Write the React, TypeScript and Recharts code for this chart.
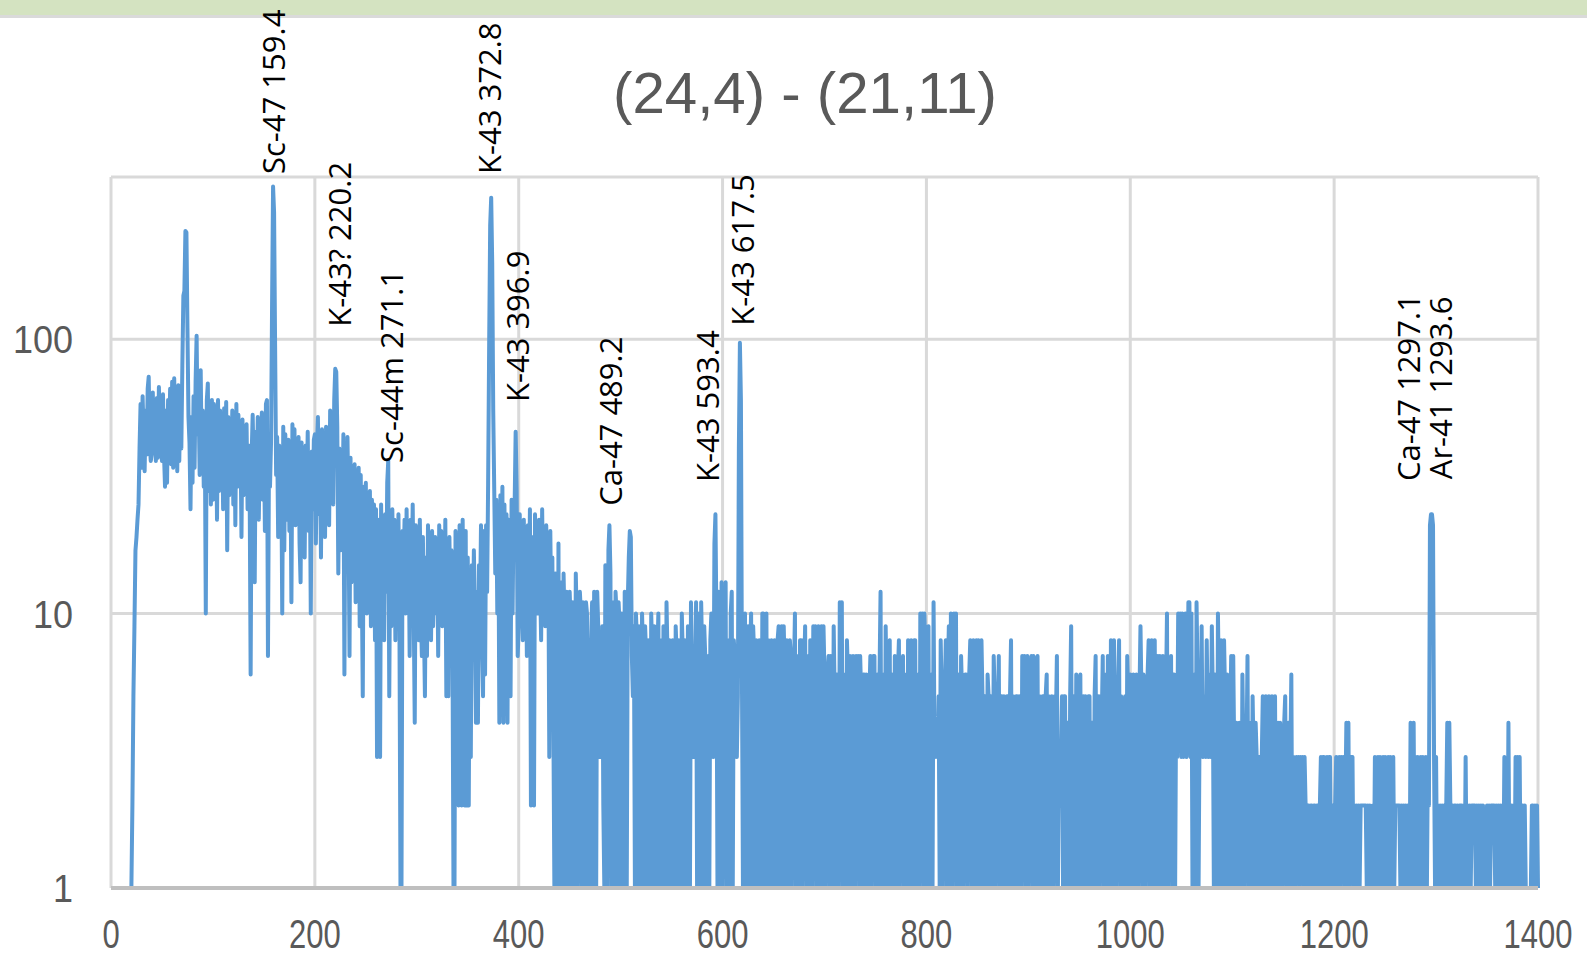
import React from 'react';
import { LineChart, Line, XAxis, YAxis, CartesianGrid, ReferenceDot } from 'recharts';

const TITLE = '(24,4) - (21,11)';
const X_TICKS = [0, 200, 400, 600, 800, 1000, 1200, 1400];
const Y_TICKS = [1, 10, 100];

// counts per 1 keV channel (1 = bottom of the log axis)
const counts020 = [
  1, 2, 5, 9, 17, 19, 22, 25, 40, 58,
  34, 62, 45, 33, 55, 38, 66, 73, 42, 36,
  38, 64, 40, 58, 36, 61, 37, 67, 44, 59,
  36, 63, 38, 29, 55, 30, 60, 41, 66, 35,
  70, 34, 72, 38, 63, 33, 68, 36, 65, 40,
  80, 144, 150, 248, 245, 110, 52, 42, 24, 52,
  30, 62, 34, 70, 103, 45, 58, 32, 77, 36,
  55, 29, 48, 10, 60, 69, 28, 57, 25, 60,
];
const counts100 = [
  26, 58, 30, 54, 22, 60, 28, 55, 35, 50,
  24, 56, 31, 59, 17, 52, 27, 48, 33, 55,
  25, 50, 21, 58, 29, 53, 34, 46, 19, 51,
  27, 44, 36, 49, 24, 41, 30, 6, 38, 53,
  33, 13, 46, 28, 52, 22, 40, 31, 54, 26,
  47, 20, 58, 60, 7, 37, 29, 42, 130, 360,
  290, 95, 32, 44, 19, 41, 25, 36, 10, 48,
  17, 45, 30, 22, 43, 20, 37, 11, 49, 28,
  47, 21, 39, 25, 44, 18, 13, 42, 23, 38,
  16, 41, 27, 46, 20, 36, 10, 39, 24, 43,
];
const counts200 = [
  45, 18, 40, 52, 23, 37, 16, 47, 26, 42,
  19, 48, 30, 44, 21, 55, 33, 50, 25, 60,
  78, 76, 48, 14, 40, 17, 36, 22, 45, 6,
  33, 15, 44, 24, 7, 37, 13, 31, 18, 35,
  11, 30, 20, 34, 9, 32, 14, 5, 29, 12,
  30, 10, 27, 16, 28, 9, 26, 13, 25, 8,
  24, 3, 22, 11, 3, 25, 10, 21, 8, 23,
  12, 30, 36, 5, 20, 9, 24, 13, 22, 8,
  21, 11, 23, 9, 1, 1, 20, 14, 22, 10,
  24, 12, 19, 7, 22, 13, 25, 10, 4, 21,
];
const counts300 = [
  12, 20, 8, 22, 10, 7, 19, 9, 5, 16,
  7, 21, 11, 18, 8, 20, 9, 13, 19, 10,
  17, 7, 21, 12, 20, 9, 18, 11, 22, 5,
  15, 5, 19, 10, 17, 8, 1, 1, 20, 11,
  16, 2, 21, 12, 2, 22, 9, 2, 20, 2,
  16, 2, 14, 3, 15, 8, 17, 10, 4, 12,
  4, 15, 10, 21, 8, 5, 20, 6, 21, 12,
  30, 95, 260, 328, 190, 55, 28, 14, 26, 10,
  24, 4, 27, 12, 29, 4, 25, 11, 23, 4,
  22, 13, 5, 26, 10, 24, 25, 46, 28, 7,
];
const counts400 = [
  9, 23, 12, 20, 8, 22, 10, 18, 7, 21,
  11, 24, 2, 19, 9, 2, 23, 12, 20, 10,
  22, 13, 8, 24, 11, 19, 9, 21, 12, 18,
  3, 20, 9, 16, 4, 1, 14, 9, 1, 18,
  1, 13, 10, 1, 14, 9, 1, 12, 10, 1,
  12, 9, 1, 11, 10, 1, 14, 9, 1, 8,
  12, 10, 1, 11, 9, 1, 11, 10, 1, 8,
  1, 8, 11, 1, 12, 9, 1, 12, 9, 3,
  4, 3, 9, 2, 1, 15, 10, 1, 17, 21,
  14, 1, 11, 9, 1, 12, 10, 1, 11, 9,
];
const counts500 = [
  1, 10, 8, 1, 12, 9, 1, 11, 16, 20,
  19, 7, 5, 9, 1, 10, 8, 1, 9, 8,
  1, 10, 7, 1, 9, 7, 1, 8, 7, 1,
  10, 7, 1, 9, 7, 1, 7, 10, 1, 8,
  7, 1, 9, 7, 1, 11, 7, 1, 8, 7,
  1, 8, 7, 1, 9, 7, 1, 8, 7, 1,
  10, 7, 1, 8, 6, 1, 9, 7, 1, 11,
  7, 3, 4, 3, 11, 1, 10, 7, 1, 11,
  7, 1, 9, 7, 1, 6, 7, 1, 8, 10,
  4, 3, 18, 23, 9, 1, 12, 8, 1, 13,
];
const counts600 = [
  1, 9, 7, 13, 1, 8, 7, 1, 10, 12,
  1, 8, 7, 4, 3, 5, 40, 97, 60, 6,
  1, 8, 10, 1, 7, 9, 1, 7, 10, 1,
  9, 7, 1, 8, 7, 1, 8, 7, 1, 10,
  10, 1, 7, 10, 1, 8, 6, 1, 8, 7,
  1, 8, 6, 1, 8, 9, 1, 7, 9, 1,
  9, 6, 1, 8, 6, 1, 8, 7, 1, 7,
  6, 10, 1, 7, 6, 1, 8, 8, 1, 8,
  6, 9, 1, 7, 6, 1, 8, 7, 1, 9,
  6, 9, 1, 7, 9, 1, 7, 9, 1, 9,
];
const counts700 = [
  6, 1, 5, 6, 7, 1, 7, 6, 1, 9,
  5, 1, 6, 5, 1, 11, 6, 11, 1, 6,
  5, 1, 8, 6, 1, 7, 5, 1, 7, 6,
  1, 7, 5, 7, 1, 7, 5, 1, 6, 6,
  1, 6, 5, 1, 5, 7, 1, 6, 7, 7,
  1, 5, 6, 1, 6, 12, 1, 6, 5, 1,
  9, 5, 1, 6, 8, 1, 5, 6, 1, 7,
  5, 1, 6, 8, 1, 5, 6, 7, 1, 5,
  6, 1, 8, 6, 1, 8, 5, 1, 8, 8,
  1, 6, 5, 1, 10, 6, 10, 1, 10, 7,
];
const counts800 = [
  1, 6, 9, 1, 6, 5, 1, 11, 3, 4,
  4, 3, 5, 1, 8, 5, 1, 6, 5, 8,
  1, 6, 9, 1, 10, 6, 1, 10, 5, 10,
  1, 5, 6, 1, 7, 5, 1, 5, 6, 6,
  1, 5, 6, 8, 1, 5, 8, 1, 6, 8,
  1, 8, 5, 1, 8, 5, 1, 5, 5, 1,
  6, 5, 1, 5, 4, 1, 7, 5, 1, 5,
  4, 7, 1, 5, 5, 1, 5, 4, 1, 5,
  5, 1, 5, 8, 1, 5, 4, 1, 5, 5,
  1, 5, 4, 1, 7, 5, 7, 1, 5, 7,
];
const counts900 = [
  1, 5, 5, 7, 1, 7, 5, 1, 6, 7,
  1, 5, 4, 1, 5, 5, 1, 5, 6, 1,
  5, 4, 1, 5, 4, 1, 5, 4, 7, 1,
  3, 2, 3, 5, 1, 5, 5, 1, 4, 4,
  1, 5, 9, 1, 4, 5, 1, 6, 4, 1,
  5, 6, 1, 4, 5, 1, 5, 4, 1, 5,
  5, 1, 4, 4, 1, 5, 7, 1, 4, 5,
  1, 5, 4, 7, 1, 6, 5, 1, 7, 5,
  1, 8, 5, 1, 8, 5, 1, 5, 4, 8,
  1, 5, 4, 1, 4, 5, 1, 7, 5, 1,
];
const counts1000 = [
  6, 5, 1, 6, 5, 1, 6, 5, 1, 5,
  9, 5, 1, 6, 5, 1, 5, 6, 8, 1,
  6, 8, 1, 5, 8, 1, 6, 7, 1, 7,
  5, 1, 7, 6, 1, 5, 10, 1, 6, 5,
  7, 1, 6, 6, 1, 5, 3, 10, 4, 10,
  3, 10, 3, 9, 10, 3, 4, 11, 11, 3,
  10, 1, 6, 5, 1, 11, 6, 1, 4, 3,
  9, 3, 4, 5, 3, 8, 4, 3, 6, 3,
  9, 5, 1, 6, 5, 1, 10, 5, 1, 8,
  5, 1, 8, 5, 1, 6, 4, 1, 4, 7,
];
const counts1100 = [
  1, 7, 3, 1, 4, 3, 1, 4, 3, 1,
  6, 3, 1, 4, 3, 7, 1, 3, 4, 1,
  5, 3, 1, 4, 3, 1, 3, 3, 1, 3,
  5, 1, 3, 5, 1, 4, 5, 1, 3, 5,
  1, 3, 5, 1, 3, 4, 1, 4, 3, 1,
  3, 4, 5, 1, 3, 4, 1, 3, 6, 1,
  3, 2, 1, 3, 2, 3, 1, 3, 2, 3,
  1, 3, 2, 1, 2, 2, 1, 2, 2, 1,
  2, 2, 1, 2, 2, 1, 2, 3, 1, 3,
  3, 1, 2, 3, 1, 3, 3, 1, 2, 2,
];
const counts1200 = [
  1, 2, 3, 1, 2, 3, 1, 3, 2, 3,
  1, 2, 4, 1, 4, 1, 2, 3, 3, 1,
  2, 1, 2, 1, 2, 1, 2, 2, 2, 2,
  2, 2, 1, 2, 1, 2, 1, 1, 2, 1,
  3, 1, 2, 3, 1, 3, 1, 2, 3, 1,
  3, 2, 1, 3, 1, 3, 1, 2, 3, 1,
  2, 2, 2, 2, 2, 1, 2, 1, 2, 1,
  2, 1, 2, 1, 1, 4, 2, 1, 4, 1,
  3, 1, 3, 2, 1, 3, 1, 3, 2, 1,
  3, 1, 3, 2, 21, 23, 23, 21, 3, 1,
];
const counts1300 = [
  3, 1, 2, 1, 2, 1, 2, 1, 2, 1,
  2, 4, 1, 4, 2, 1, 2, 1, 2, 2,
  1, 2, 1, 2, 2, 2, 1, 2, 1, 3,
  1, 2, 1, 2, 1, 2, 2, 2, 2, 1,
  2, 1, 2, 1, 2, 1, 2, 1, 1, 1,
  2, 1, 2, 1, 2, 2, 2, 2, 1, 2,
  1, 2, 1, 2, 1, 2, 1, 3, 1, 2,
  1, 4, 1, 2, 2, 1, 2, 1, 3, 1,
  3, 1, 3, 1, 2, 2, 1, 2, 1, 1,
  1, 1, 1, 1, 2, 2, 1, 2, 1, 2,
  1,
];

const BLOCKS: [number, number[]][] = [
  [20, counts020], [100, counts100], [200, counts200], [300, counts300],
  [400, counts400], [500, counts500], [600, counts600], [700, counts700],
  [800, counts800], [900, counts900], [1000, counts1000], [1100, counts1100],
  [1200, counts1200], [1300, counts1300],
];

const spectrum = BLOCKS.flatMap(([start, vals]) =>
  vals.map((c, i) => ({ keV: start + i, counts: c }))
);

// peak annotations: energy, and the count level where the rotated text begins
const peakLabels = [
  { text: 'Sc-47 159.4', keV: 159.4, level: 400, dx: 0 },
  { text: 'K-43? 220.2', keV: 220.2, level: 111, dx: 4 },
  { text: 'Sc-44m 271.1', keV: 271.1, level: 35.4, dx: 4 },
  { text: 'K-43 372.8', keV: 372.8, level: 400, dx: -2 },
  { text: 'K-43 396.9', keV: 396.9, level: 59, dx: 1 },
  { text: 'Ca-47 489.2', keV: 489.2, level: 24.7, dx: 0 },
  { text: 'K-43 593.4', keV: 593.4, level: 30.2, dx: -9 },
  { text: 'K-43 617.5', keV: 617.5, level: 112, dx: 2 },
  { text: 'Ca-47 1297.1', keV: 1297.1, level: 30.4, dx: -25 },
  { text: 'Ar-41 1293.6', keV: 1293.6, level: 30.9, dx: 10 },
];

const XTick = ({ x, payload }: any) => (
  <g transform={`translate(${x},948) scale(1,1.3)`}>
    <text x={0} y={0} textAnchor="middle" fontFamily="Liberation Sans, Arial, sans-serif" fontSize={31} fill="#595959">
      {payload.value}
    </text>
  </g>
);

const YTick = ({ y, payload }: any) => (
  <g transform={`translate(73,${y + 14}) scale(1,1.1)`}>
    <text x={0} y={0} textAnchor="end" fontFamily="Liberation Sans, Arial, sans-serif" fontSize={36} fill="#595959">
      {payload.value}
    </text>
  </g>
);

const rotatedLabel = (text: string, dx: number) => (p: any) => {
  const x = p.cx + dx;
  return (
    <text
      x={x}
      y={p.cy}
      transform={`rotate(-90 ${x} ${p.cy})`}
      textAnchor="start"
      dominantBaseline="central"
      fontFamily="Open Sans, sans-serif"
      fontSize={31}
      fill="#000"
    >
      {text}
    </text>
  );
};

export default function App() {
  return (
    <div style={{ position: 'absolute', left: 0, top: 0, width: 1587, height: 958, background: '#fff' }}>
      <div style={{ position: 'absolute', left: 0, top: 0, width: 1587, height: 15, background: '#d4e3c1' }} />
      <div style={{ position: 'absolute', left: 0, top: 15, width: 1587, height: 3, background: '#dadada' }} />
      <svg style={{ position: 'absolute', left: 0, top: 0 }} width={1587} height={140}>
        <text
          x={805}
          y={113}
          textAnchor="middle"
          fontFamily="Liberation Sans, Arial, sans-serif"
          fontSize={57}
          fill="#595959"
          textLength={384}
          lengthAdjust="spacingAndGlyphs"
        >
          {TITLE}
        </text>
      </svg>
      <div style={{ position: 'absolute', left: 0, top: 0 }}>
        <LineChart
          width={1587}
          height={958}
          data={spectrum}
          margin={{ top: 177, right: 49, bottom: 0, left: 11 }}
        >
          <CartesianGrid stroke="#d9d9d9" strokeWidth={3} />
          <XAxis
            dataKey="keV"
            type="number"
            domain={[0, 1400]}
            ticks={X_TICKS}
            height={70}
            tickLine={false}
            axisLine={{ stroke: '#bfbfbf', strokeWidth: 4 }}
            tick={<XTick />}
            interval={0}
          />
          <YAxis
            type="number"
            scale="log"
            domain={[1, 390]}
            allowDataOverflow
            ticks={Y_TICKS}
            width={100}
            tickLine={false}
            axisLine={false}
            tick={<YTick />}
            interval={0}
          />
          <Line
            dataKey="counts"
            type="linear"
            stroke="#5b9bd5"
            strokeWidth={4}
            strokeLinejoin="round"
            strokeLinecap="round"
            dot={false}
            isAnimationActive={false}
          />
          {peakLabels.map((l) => (
            <ReferenceDot
              key={l.text}
              x={l.keV}
              y={l.level}
              r={0}
              ifOverflow="visible"
              shape={rotatedLabel(l.text, l.dx)}
            />
          ))}
        </LineChart>
      </div>
    </div>
  );
}
